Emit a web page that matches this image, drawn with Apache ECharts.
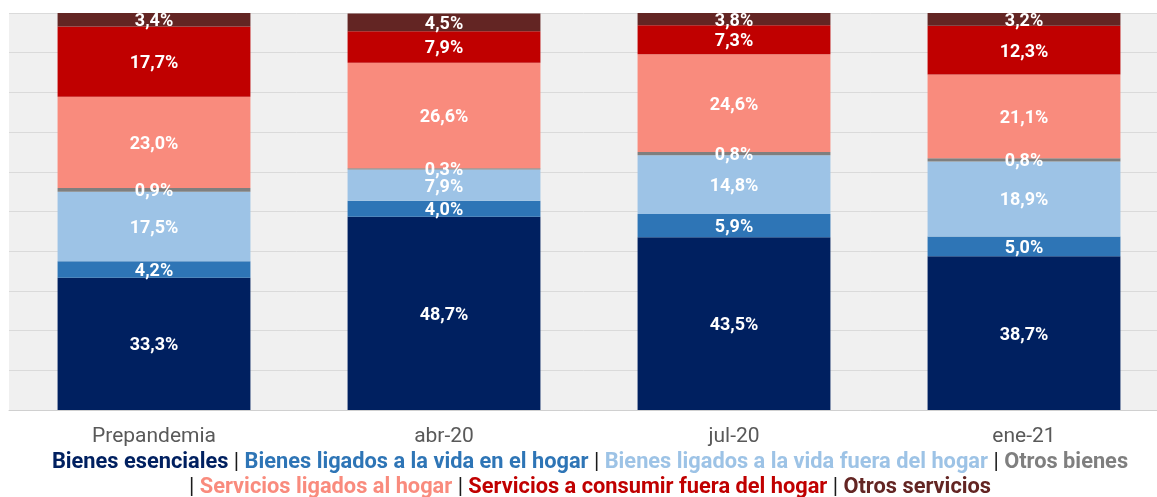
<!DOCTYPE html>
<html>
<head>
<meta charset="utf-8">
<script src="https://cdn.jsdelivr.net/npm/echarts@6/dist/echarts.min.js"></script>
<style>
html,body{margin:0;padding:0;background:#fff;}
#main{width:1157px;height:497px;}
</style>
</head>
<body>
<div id="main"></div>
<script>
var categories = ['Prepandemia', 'abr-20', 'jul-20', 'ene-21'];
var seriesNames = [
	'Bienes esenciales',
	'Bienes ligados a la vida en el hogar',
	'Bienes ligados a la vida fuera del hogar',
	'Otros bienes',
	'Servicios ligados al hogar',
	'Servicios a consumir fuera del hogar',
	'Otros servicios'
];
var colors = ['#002060', '#2e75b6', '#9dc3e6', '#7f7f7f', '#f98b7d', '#c00000', '#632523'];
var bienesEsenciales = [33.3, 48.7, 43.5, 38.7];
var bienesHogar = [4.2, 4.0, 5.9, 5.0];
var bienesFuera = [17.5, 7.9, 14.8, 18.9];
var otrosBienes = [0.9, 0.3, 0.8, 0.8];
var serviciosHogar = [23.0, 26.6, 24.6, 21.1];
var serviciosFuera = [17.7, 7.9, 7.3, 12.3];
var otrosServicios = [3.4, 4.5, 3.8, 3.2];
var values = [bienesEsenciales, bienesHogar, bienesFuera, otrosBienes, serviciosHogar, serviciosFuera, otrosServicios];

var chart = echarts.init(document.getElementById('main'));

// legend lines built as rich text (zrender style -> fill)
var legendFont = 21.8;
var rich = {sep: {fill: '#1a1a1a', fontWeight: 'normal', fontSize: legendFont, fontFamily: 'Roboto'}};
var parts = [];
seriesNames.forEach(function (n, i) {
	rich['s' + i] = {fill: colors[i], fontWeight: 'bold', fontSize: legendFont, fontFamily: 'Roboto'};
	parts.push('{s' + i + '|' + n + '}');
});
var line1 = parts.slice(0, 4).join('{sep| | }');
var line2 = '{sep|| }' + parts.slice(4).join('{sep| | }');

var series = seriesNames.map(function (n, i) {
	return {
		name: n,
		type: 'bar',
		stack: 'total',
		barWidth: '66.5%',
		data: values[i],
		itemStyle: {color: colors[i]},
		label: {
			show: true,
			color: '#fff',
			fontSize: 18,
			fontWeight: 'bold',
			fontFamily: 'Roboto',
			offset: [0, 2],
			formatter: function (p) {
				return p.value.toFixed(1).replace('.', ',') + '%';
			}
		}
	};
});

var option = {
	animation: false,
	grid: {
		left: 9, top: 13, right: -12, bottom: 87,
		outerBoundsMode: 'none',
		containLabel: false,
		show: true, backgroundColor: '#f0f0f0', borderWidth: 0
	},
	xAxis: {
		type: 'category',
		data: categories,
		axisLine: {lineStyle: {color: '#d0d0d0', width: 1}},
		axisTick: {show: false},
		axisLabel: {color: '#595959', fontSize: 21, fontFamily: 'Roboto', margin: 16}
	},
	yAxis: {
		type: 'value',
		min: 0,
		max: 100,
		interval: 10,
		axisLabel: {show: false},
		axisLine: {show: false},
		axisTick: {show: false},
		splitLine: {lineStyle: {color: '#dadada', width: 1}}
	},
	graphic: [
		{type: 'text', x: 590, y: 452, style: {text: line1, rich: rich, textAlign: 'center', fontSize: legendFont, fontFamily: 'Roboto'}},
		{type: 'text', x: 590, y: 477, style: {text: line2, rich: rich, textAlign: 'center', fontSize: legendFont, fontFamily: 'Roboto'}}
	],
	series: series
};
chart.setOption(option);
</script>
</body>
</html>
